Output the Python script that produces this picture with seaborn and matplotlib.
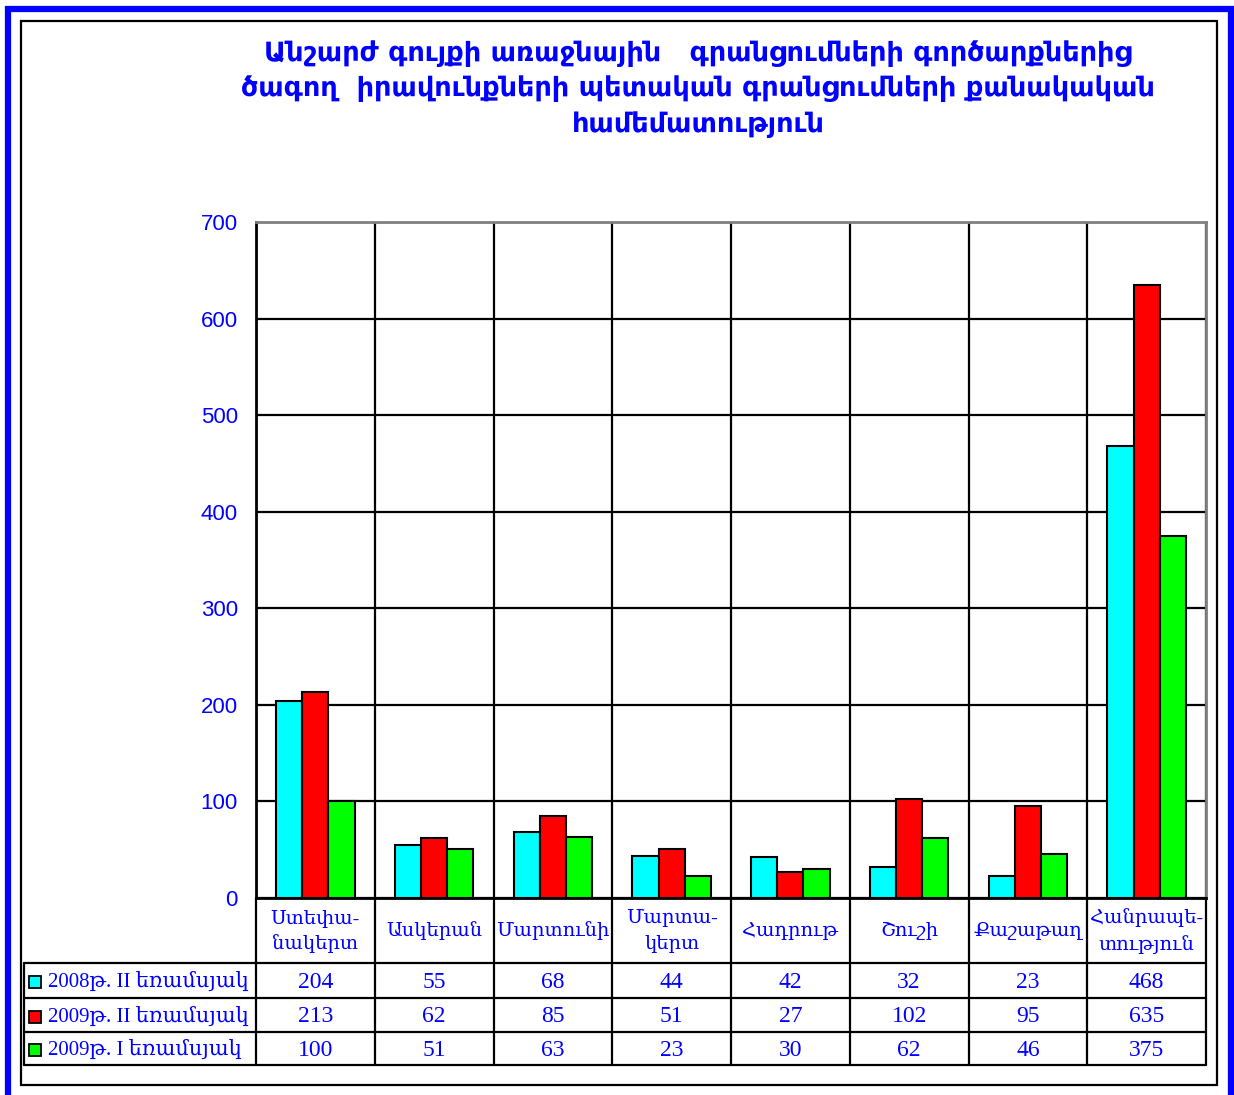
import numpy as np
import pandas as pd
import matplotlib
matplotlib.use("Agg")
import matplotlib.pyplot as plt
import seaborn as sns
from matplotlib.patches import Rectangle
from matplotlib.lines import Line2D

# ---------------- data ----------------
categories = ["Ստեփա-\nնակերտ", "Ասկերան", "Մարտունի", "Մարտա-\nկերտ",
              "Հադրութ", "Շուշի", "Քաշաթաղ", "Հանրապե-\nտություն"]
series_names = ["2008թ. II եռամսյակ", "2009թ. II եռամսյակ", "2009թ. I եռամսյակ"]
values_2008_q2 = [204, 55, 68, 44, 42, 32, 23, 468]
values_2009_q2 = [213, 62, 85, 51, 27, 102, 95, 635]
values_2009_q1 = [100, 51, 63, 23, 30, 62, 46, 375]
series_colors = ["#00FFFF", "#FF0000", "#00FF00"]
y_ticks = [0, 100, 200, 300, 400, 500, 600, 700]
title_text = ("Անշարժ գույքի առաջնային   գրանցումների գործարքներից\n"
              "ծագող  իրավունքների պետական գրանցումների քանակական\n"
              "համեմատություն")

all_values = [values_2008_q2, values_2009_q2, values_2009_q1]
df = pd.DataFrame({
    "category": categories * 3,
    "series": sum([[s] * len(categories) for s in series_names], []),
    "value": values_2008_q2 + values_2009_q2 + values_2009_q1,
})

# ---------------- layout ----------------
W, H = 1234, 1095
BLUE = "#0000FF"
serif = ["Liberation Serif", "DejaVu Serif", "DejaVu Sans"]
sans = ["Liberation Sans", "DejaVu Sans"]

sns.set_style("white")
plt.rcParams["font.family"] = ["DejaVu Sans"]

fig = plt.figure(figsize=(W / 100, H / 100), dpi=100)

def fx(px):
    return px / W

def fy(py):
    return 1 - py / H

AX_L, AX_R, AX_T, AX_B = 256, 1206, 222, 898
ax = fig.add_axes([fx(AX_L), fy(AX_B), (AX_R - AX_L) / W, (AX_B - AX_T) / H])

def ax_x(px):
    return (px - AX_L) / (AX_R - AX_L)

def ax_y(py):
    return (AX_B - py) / (AX_B - AX_T)

sns.barplot(data=df, x="category", y="value", hue="series", hue_order=series_names,
            order=categories, palette=series_colors, saturation=1, width=0.66,
            edgecolor="black", linewidth=1.5, ax=ax, legend=False)

n = len(categories)
ax.set_xlim(-0.5, n - 0.5)
ax.set_ylim(0, 700)
ax.set_yticks(y_ticks)
ax.set_xticks([])
ax.set_xticks(np.arange(-0.5, n, 1), minor=True)
ax.tick_params(axis="x", which="both", length=0, labelbottom=False)
ax.set_xlabel("")
ax.set_ylabel("")
ax.grid(axis="y", which="major", color="black", lw=1.6)
ax.grid(axis="x", which="minor", color="black", lw=1.6)
ax.set_axisbelow(True)
ax.tick_params(axis="y", length=7, width=1.5, color="black", pad=6,
               labelcolor=BLUE, labelsize=16)
for lab in ax.get_yticklabels():
    lab.set_family(sans)
for s in ["left", "bottom"]:
    ax.spines[s].set_color("black")
    ax.spines[s].set_linewidth(2)
for s in ["top", "right"]:
    ax.spines[s].set_color("#808080")
    ax.spines[s].set_linewidth(2)

# ---------------- title ----------------
fig.text(fx(698), fy(89), title_text, ha="center", va="center", color=BLUE,
         fontsize=19.5, fontweight="bold", linespacing=1.42, family=["DejaVu Sans"])

# ---------------- data table ----------------
row_lines = [963, 998, 1032, 1065]
row_centers = [982, 1017, 1050]
tr = ax.transAxes
lk = dict(transform=tr, color="black", lw=1.6, clip_on=False)
for py in row_lines:
    ax.add_line(Line2D([ax_x(24), 1.0], [ax_y(py)] * 2, **lk))
for k in range(n + 1):
    ax.add_line(Line2D([k / n, k / n], [0, ax_y(1065)], **lk))
ax.add_line(Line2D([ax_x(24)] * 2, [ax_y(963), ax_y(1065)], **lk))

for i, cat in enumerate(categories):
    ax.text((i + 0.5) / n, ax_y(931), cat, transform=tr, ha="center", va="center",
            color=BLUE, fontsize=14, family=serif, linespacing=1.5)
    for r, vals in enumerate(all_values):
        ax.text((i + 0.5) / n, ax_y(row_centers[r]), str(vals[i]), transform=tr,
                ha="center", va="center", color=BLUE, fontsize=17, family=serif)

for r, name in enumerate(series_names):
    cy = row_centers[r]
    ax.add_patch(Rectangle((ax_x(29), ax_y(cy + 6)), 12 / (AX_R - AX_L),
                           12 / (AX_B - AX_T), transform=tr, facecolor=series_colors[r],
                           edgecolor="black", lw=1.3, clip_on=False))
    ax.text(ax_x(48), ax_y(cy), name, transform=tr, ha="left", va="center",
            color=BLUE, fontsize=15, family=serif)

# ---------------- frames ----------------
fig.add_artist(Rectangle((fx(21), fy(1085)), (1217 - 21) / W, (1085 - 21) / H,
                         transform=fig.transFigure, fill=False, edgecolor="black", lw=1.6))
fig.add_artist(Rectangle((fx(8), fy(1110)), (1231 - 8) / W, (1110 - 9) / H,
                         transform=fig.transFigure, fill=False, edgecolor=BLUE, lw=4.5))

fig.savefig("out.png", dpi=100, facecolor="white")
